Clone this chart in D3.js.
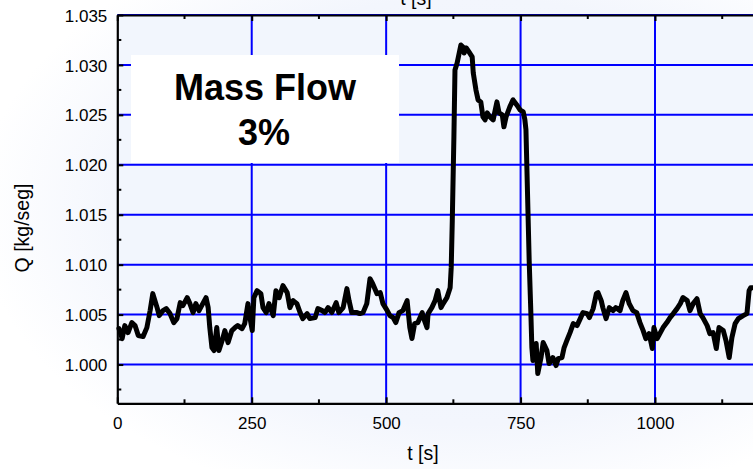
<!DOCTYPE html>
<html>
<head>
<meta charset="utf-8">
<script src="https://cdn.jsdelivr.net/npm/d3@7"></script>
<style>
  html, body { margin: 0; padding: 0; background: #ffffff; }
  svg { display: block; font-family: "Liberation Sans", Arial, sans-serif; }
</style>
</head>
<body>
<svg id="chart" width="753" height="469"></svg>
<script>
// ---- data ----
const timeSeconds = [3,9,14,20,27,33,39,48,55,61,66,74,78,85,91,98,105,111,117,122,130,135,141,146,152,159,165,169,172,176,180,185,189,195,200,206,213,219,224,
  232,237,243,247,251,254,260,267,271,277,282,290,295,301,308,316,321,327,334,340,345,353,358,368,373,381,386,392,399,407,412,420,427,431,436,
  446,451,457,464,470,475,483,489,494,502,507,513,518,524,531,539,544,548,553,559,567,570,576,578,585,591,596,602,606,613,619,621,623,626,
  628,632,639,643,645,649,654,660,662,667,671,676,680,684,688,693,699,706,710,716,719,723,730,736,743,749,755,758,760,
  766,769,771,773,779,782,788,792,799,803,810,816,820,827,831,836,842,848,855,861,866,874,878,885,891,894,900,903,909,915,922,927,935,940,946,952,959,966,972,978,983,989,995,998,
  1004,1009,1015,1022,1028,1034,1041,1047,1052,1060,1065,1071,1078,1084,1089,1097,1102,1108,1114,1119,1127,1132,1138,1143,1149,1155,1164,1171,1175,1178,1182];
const massFlow = [1.0036,1.0026,1.0039,1.0032,1.0042,1.0039,1.0029,1.0028,1.0037,1.0054,1.0071,1.0057,1.0049,1.0054,1.0056,1.0051,1.0042,1.0046,1.0062,1.0059,1.0067,1.0061,1.0052,1.0061,1.0054,1.0061,1.0067,1.0057,1.0037,1.0017,1.0014,1.0037,1.0014,1.0024,1.0034,1.0022,1.0034,1.0037,1.0039,
  1.0036,1.0041,1.0061,1.0046,1.0034,1.0067,1.0074,1.0071,1.0057,1.0052,1.0061,1.0049,1.0074,1.0067,1.0079,1.0072,1.0057,1.0064,1.0061,1.0052,1.0046,1.0051,1.0046,1.0047,1.0056,1.0054,1.0052,1.0057,1.0052,1.0062,1.0052,1.0057,1.0076,1.0064,1.0052,
  1.0052,1.0051,1.0052,1.0061,1.0086,1.0081,1.0071,1.0072,1.0061,1.0054,1.0049,1.0047,1.0042,1.0052,1.0054,1.0064,1.0037,1.0026,1.0041,1.0042,1.0052,1.0046,1.0037,1.0051,1.0057,1.0064,1.0074,1.0057,1.0061,1.0067,1.0077,1.0097,1.0144,1.0228,
  1.0295,1.0302,1.0320,1.0318,1.0312,1.0317,1.0313,1.0308,1.0292,1.0275,1.0265,1.0263,1.0248,1.0245,1.0252,1.0248,1.0245,1.0263,1.0252,1.0250,1.0238,1.0248,1.0258,1.0265,1.0260,1.0255,1.0253,1.0245,1.0235,
  1.0104,1.0054,1.0017,1.0004,1.0021,0.9991,1.0007,1.0022,1.0014,1.0001,1.0007,0.9999,1.0006,1.0007,1.0017,1.0024,1.0032,1.0041,1.0039,1.0046,1.0052,1.0051,1.0047,1.0056,1.0071,1.0072,1.0064,1.0057,1.0046,1.0057,1.0054,1.0057,1.0054,1.0064,1.0072,1.0061,1.0054,1.0052,1.0042,1.0034,1.0026,1.0031,1.0016,1.0037,
  1.0026,1.0031,1.0037,1.0042,1.0047,1.0051,1.0056,1.0061,1.0067,1.0064,1.0054,1.0061,1.0066,1.0051,1.0047,1.0039,1.0031,1.0032,1.0016,1.0037,1.0034,1.0024,1.0007,1.0027,1.0041,1.0046,1.0049,1.0051,1.0074,1.0077,1.0077];
const xTickValues = [0, 250, 500, 750, 1000];
const xMinorTicks = [125, 375, 625, 875, 1125];
const yTickValues = [1.000, 1.005, 1.010, 1.015, 1.020, 1.025, 1.030, 1.035];
const yMinorTicks = [0.9975, 1.0025, 1.0075, 1.0125, 1.0175, 1.0225, 1.0275, 1.0325];
const xLabel = "t [s]";
const yLabel = "Q [kg/seg]";
const boxLines = ["Mass Flow", "3%"];

(function () {
// ---- layout ----
const pLeft = 117.3, pTop = 15, pBottom = 403.3;
const x = d3.scaleLinear().domain([0, 1250]).range([pLeft, pLeft + 1250 * 0.5377]);
const y = d3.scaleLinear().domain([0.99612, 1.035]).range([pBottom, pTop]);
const pRight = x(1250);

const svg = d3.select("#chart");
const defs = svg.append("defs");
const rg = defs.append("radialGradient").attr("id", "bg")
  .attr("cx", "62%").attr("cy", "45%").attr("r", "65%");
rg.append("stop").attr("offset", "0%").attr("stop-color", "#eef3fc");
rg.append("stop").attr("offset", "70%").attr("stop-color", "#f3f6fd");
rg.append("stop").attr("offset", "100%").attr("stop-color", "#ffffff");
svg.append("rect").attr("width", 753).attr("height", 469).attr("fill", "url(#bg)");

// plot background
svg.append("rect").attr("x", pLeft).attr("y", pTop)
  .attr("width", pRight - pLeft).attr("height", pBottom - pTop).attr("fill", "#f2f6fd");

// grid
const grid = svg.append("g").attr("stroke", "#0000ff").attr("stroke-width", 2);
grid.selectAll("line.h").data(yTickValues).join("line").attr("class", "h")
  .attr("x1", pLeft).attr("x2", pRight).attr("y1", d => y(d)).attr("y2", d => y(d));
grid.selectAll("line.v").data(xTickValues.filter(d => d > 0)).join("line").attr("class", "v")
  .attr("x1", d => x(d)).attr("x2", d => x(d)).attr("y1", pTop).attr("y2", pBottom);

// axes
const fontSize = 17;
const yAxis = d3.axisLeft(y).tickValues(yTickValues).tickFormat(d3.format(".3f"))
  .tickSizeInner(-6).tickSizeOuter(0).tickPadding(10);
const yA = svg.append("g").attr("transform", `translate(${pLeft},0)`).call(yAxis);
const xAxis = d3.axisBottom(x).tickValues(xTickValues).tickFormat(d3.format("d"))
  .tickSizeInner(-6).tickSizeOuter(0).tickPadding(14);
const xA = svg.append("g").attr("transform", `translate(0,${pBottom})`).call(xAxis);
const xTop = d3.axisTop(x).tickValues(xTickValues).tickFormat("").tickSizeInner(-6).tickSizeOuter(0);
const xT = svg.append("g").attr("transform", `translate(0,${pTop})`).call(xTop);
[yA, xA, xT].forEach(g => {
  g.select(".domain").attr("stroke", "#000").attr("stroke-width", 2.2);
  g.selectAll(".tick line").attr("stroke", "#000").attr("stroke-width", 2);
  g.selectAll(".tick text").attr("fill", "#000").attr("font-size", fontSize)
    .attr("font-family", "Liberation Sans, Arial, sans-serif");
});
yA.selectAll(".tick text").attr("dy", "0.36em");

// minor ticks
const minor = svg.append("g").attr("stroke", "#000").attr("stroke-width", 2);
minor.selectAll("line.ym").data(yMinorTicks).join("line").attr("class", "ym")
  .attr("x1", pLeft).attr("x2", pLeft + 4).attr("y1", d => y(d)).attr("y2", d => y(d));
minor.selectAll("line.xb").data(xMinorTicks).join("line").attr("class", "xb")
  .attr("x1", d => x(d)).attr("x2", d => x(d)).attr("y1", pBottom).attr("y2", pBottom - 4);
minor.selectAll("line.xt").data(xMinorTicks).join("line").attr("class", "xt")
  .attr("x1", d => x(d)).attr("x2", d => x(d)).attr("y1", pTop).attr("y2", pTop + 4);

// annotation box
svg.append("rect").attr("x", 131).attr("y", 55).attr("width", 268).attr("height", 108).attr("fill", "#ffffff");
svg.append("text").attr("x", 265).attr("y", 100).attr("text-anchor", "middle")
  .attr("font-size", 36).attr("font-weight", "bold").attr("fill", "#000").text(boxLines[0]);
svg.append("text").attr("x", 264).attr("y", 145).attr("text-anchor", "middle")
  .attr("font-size", 36).attr("font-weight", "bold").attr("fill", "#000").text(boxLines[1]);

// data line
const line = d3.line().x((d, i) => x(timeSeconds[i])).y(d => y(d));
svg.append("path").datum(massFlow).attr("d", line)
  .attr("fill", "none").attr("stroke", "#000").attr("stroke-width", 5)
  .attr("stroke-linejoin", "round").attr("stroke-linecap", "round");

// axis titles
const titleSize = 19.5;
svg.append("text").attr("x", 423).attr("y", 460).attr("text-anchor", "middle")
  .attr("font-size", titleSize).attr("fill", "#000").text(xLabel);
svg.append("text").attr("x", 416).attr("y", 5).attr("text-anchor", "middle")
  .attr("font-size", titleSize).attr("fill", "#000").text(xLabel);
svg.append("text").attr("transform", "translate(28.5,228) rotate(-90)").attr("text-anchor", "middle")
  .attr("font-size", titleSize).attr("fill", "#000").text(yLabel);
})();
</script>
</body>
</html>
